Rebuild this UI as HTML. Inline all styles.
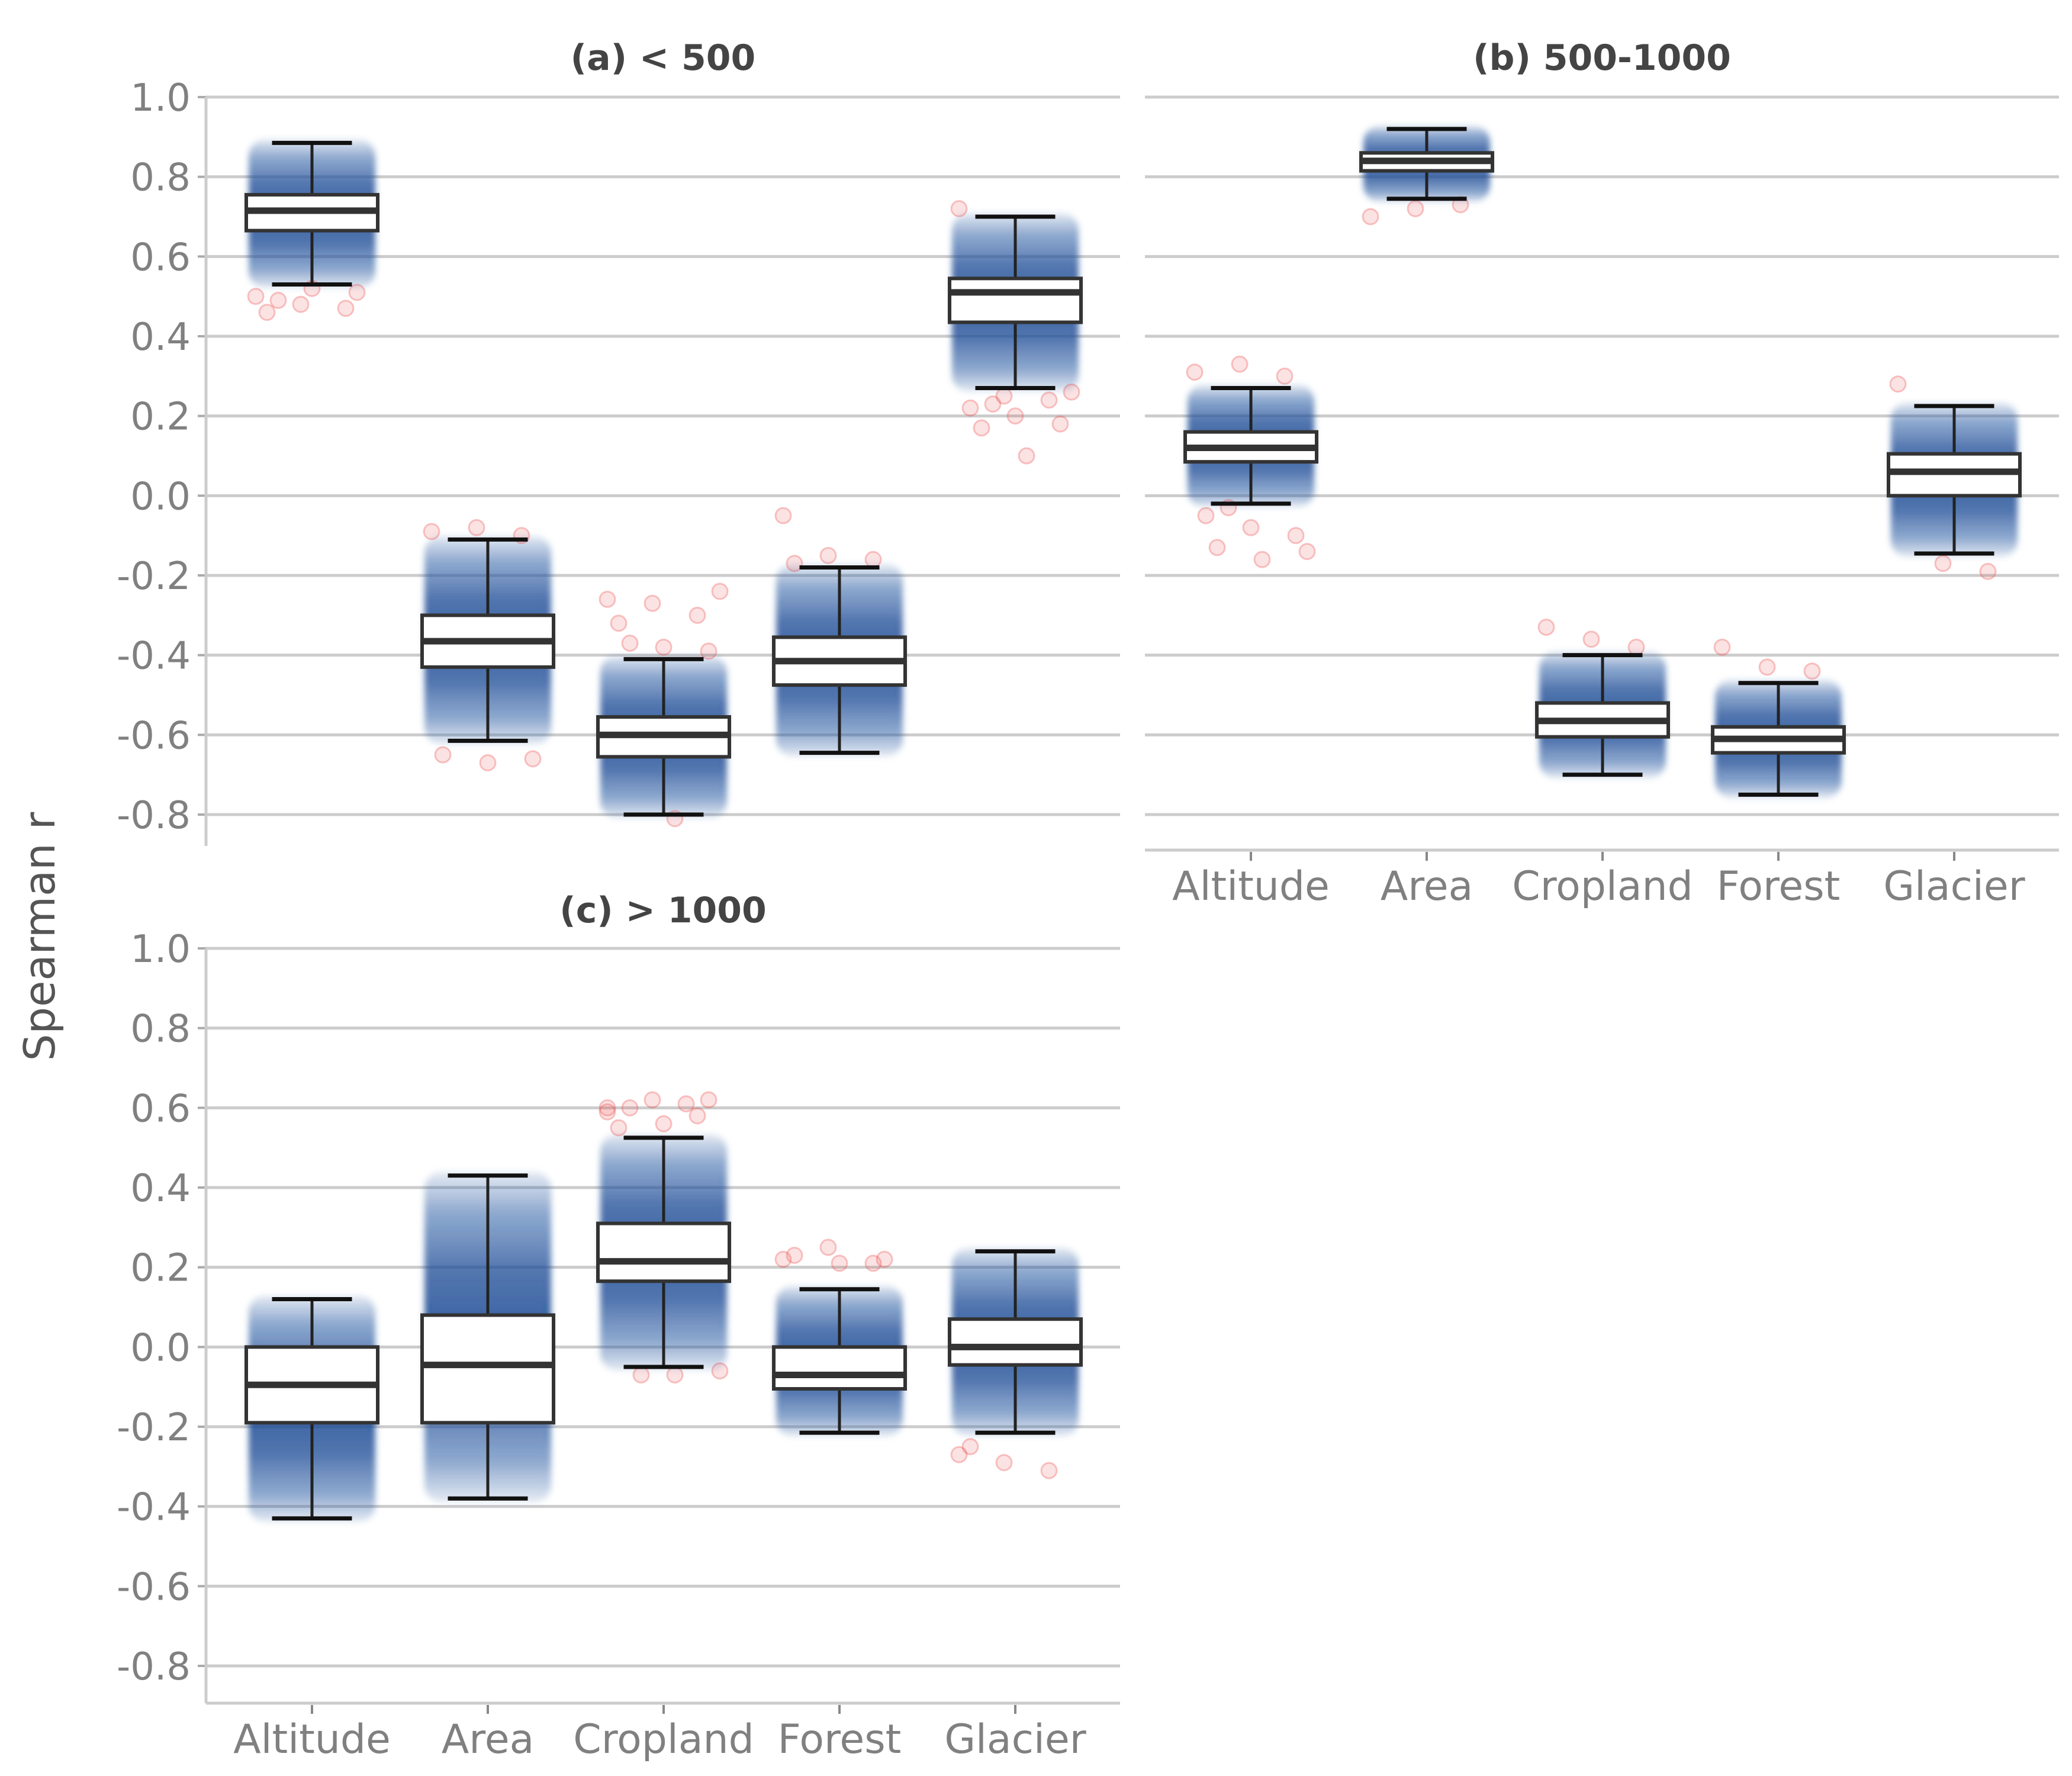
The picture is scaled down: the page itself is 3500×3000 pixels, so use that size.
<!DOCTYPE html>
<html><head><meta charset="utf-8"><style>
html,body{margin:0;padding:0;background:#fff}
svg{display:block;font-family:"DejaVu Sans","Liberation Sans",sans-serif}
</style></head><body>
<svg id="chart" width="3500" height="3000" viewBox="0 0 3500 3000" xmlns="http://www.w3.org/2000/svg">
<defs>
<linearGradient id="cloud" x1="0" y1="0" x2="0" y2="1">
<stop offset="0" stop-color="#2456a0" stop-opacity="0.12"/>
<stop offset="0.12" stop-color="#2456a0" stop-opacity="0.5"/>
<stop offset="0.3" stop-color="#1f4f98" stop-opacity="0.78"/>
<stop offset="0.5" stop-color="#1a4a94" stop-opacity="0.88"/>
<stop offset="0.7" stop-color="#1f4f98" stop-opacity="0.78"/>
<stop offset="0.88" stop-color="#2456a0" stop-opacity="0.5"/>
<stop offset="1" stop-color="#2456a0" stop-opacity="0.12"/>
</linearGradient>
<filter id="soft"><feGaussianBlur stdDeviation="5"/></filter>
</defs>
<text x="0" y="0" transform="translate(92,1582) rotate(-90)" text-anchor="middle" font-size="72" fill="#555">Spearman r</text>
</svg>
<script>
const categories = ["Altitude","Area","Cropland","Forest","Glacier"];
const yTicks = [1.0,0.8,0.6,0.4,0.2,0.0,-0.2,-0.4,-0.6,-0.8];
const panelTitles = ["(a) < 500","(b) 500-1000","(c) > 1000"];
// box stats per panel: [q1, median, q3, whiskerLow, whiskerHigh]
const statsA = [[0.665,0.715,0.755,0.53,0.885],[-0.43,-0.365,-0.30,-0.615,-0.11],[-0.655,-0.60,-0.555,-0.80,-0.41],[-0.475,-0.415,-0.355,-0.645,-0.18],[0.435,0.51,0.545,0.27,0.70]];
const statsB = [[0.085,0.12,0.16,-0.02,0.27],[0.815,0.84,0.86,0.745,0.92],[-0.605,-0.565,-0.52,-0.70,-0.40],[-0.645,-0.61,-0.58,-0.75,-0.47],[0.0,0.06,0.105,-0.145,0.225]];
const statsC = [[-0.19,-0.095,0.0,-0.43,0.12],[-0.19,-0.045,0.08,-0.38,0.43],[0.165,0.215,0.31,-0.05,0.525],[-0.105,-0.07,0.0,-0.215,0.145],[-0.045,0.0,0.07,-0.215,0.24]];
// outliers per category
const outA = [[0.50,0.48,0.47,0.46,0.52,0.51,0.49],[-0.09,-0.08,-0.10,-0.65,-0.67,-0.66],[-0.26,-0.27,-0.30,-0.32,-0.38,-0.39,-0.37,-0.81,-0.24],[-0.05,-0.15,-0.16,-0.17],[0.72,0.25,0.24,0.22,0.20,0.18,0.17,0.10,0.26,0.23]];
const outB = [[0.31,0.33,0.30,-0.05,-0.08,-0.10,-0.13,-0.16,-0.14,-0.03],[0.70,0.72,0.73],[-0.33,-0.36,-0.38],[-0.38,-0.43,-0.44],[0.28,-0.17,-0.19]];
const outC = [[],[],[0.60,0.62,0.58,0.55,0.56,0.62,0.60,-0.07,-0.06,-0.07,0.61,0.59],[0.22,0.25,0.21,0.23,0.21,0.22],[-0.27,-0.29,-0.31,-0.25]];

const NS="http://www.w3.org/2000/svg";
const svg=document.getElementById('chart');
function mk(tag,attrs,parent){const e=document.createElementNS(NS,tag);for(const k in attrs)e.setAttribute(k,attrs[k]);(parent||svg).appendChild(e);return e;}

const panels=[
 {x0:348,x1:1892,yTop:164,yBot:1376,axisBot:1429,stats:statsA,out:outA,title:panelTitles[0],titleY:118,yLabels:true,xLabels:false,vAxis:true,name:'panel-a'},
 {x0:1934,x1:3478,yTop:164,yBot:1376,axisBot:1436,stats:statsB,out:outB,title:panelTitles[1],titleY:118,yLabels:false,xLabels:true,vAxis:false,name:'panel-b'},
 {x0:348,x1:1892,yTop:1602,yBot:2814,axisBot:2877,stats:statsC,out:outC,title:panelTitles[2],titleY:1558,yLabels:true,xLabels:true,vAxis:true,name:'panel-c'}
];

panels.forEach(p=>{
 const g=mk('g',{});
 
 
 const yScale=v=>p.yBot+(v-(-0.8))/(1.8)*(p.yTop-p.yBot);
 const xScale=i=>p.x0+179+i*297;
 yTicks.forEach(t=>{
  const l=mk('line',{x1:p.x0,x2:p.x1,y1:yScale(t),y2:yScale(t),stroke:'#cccccc','stroke-width':5},g);
  
  
  if(p.yLabels){
   mk('line',{x1:p.x0-14,x2:p.x0,y1:yScale(t),y2:yScale(t),stroke:'#aaa','stroke-width':4},g);
   const tx=mk('text',{x:p.x0-26,y:yScale(t)+23,'text-anchor':'end','font-size':64,fill:'#808080'},g);
   tx.textContent=t.toFixed(1);
   
   
  }
 });
 if(p.vAxis){
  const a=mk('line',{x1:p.x0,x2:p.x0,y1:p.yTop,y2:p.axisBot,stroke:'#cccccc','stroke-width':5},g);
  
  
 }
 if(p.xLabels){
  const a=mk('line',{x1:p.x0,x2:p.x1,y1:p.axisBot,y2:p.axisBot,stroke:'#cccccc','stroke-width':5},g);
  
  
  categories.forEach((c,i)=>{
   mk('line',{x1:xScale(i),x2:xScale(i),y1:p.axisBot+3,y2:p.axisBot+18,stroke:'#888','stroke-width':4},g);
   const tx=mk('text',{x:xScale(i),y:p.axisBot+84,'text-anchor':'middle','font-size':68,fill:'#808080'},g);
   tx.textContent=c;
   
   
  });
 }
 const tt=mk('text',{x:(p.x0+p.x1)/2,y:p.titleY,'text-anchor':'middle','font-size':60,'font-weight':'bold',fill:'#444'},g);
 tt.textContent=p.title;
 
 

 categories.forEach((c,i)=>{
  const s=p.stats[i];const cx=xScale(i);
  const lo=Math.min(s[3],s[0]),hi=Math.max(s[4],s[2]);
  const cw=214;
  const cloud=mk('rect',{x:cx-cw/2,y:yScale(hi)-6,width:cw,height:yScale(lo)-yScale(hi)+12,rx:28,fill:'url(#cloud)',filter:'url(#soft)'},g);
  
  
  p.out[i].forEach((v,j)=>{
   const off=(((j*37)%11)-5)/5*95;
   const pt=mk('circle',{cx:cx+off,cy:yScale(v),r:13,fill:'rgba(235,70,70,0.15)',stroke:'rgba(235,70,70,0.3)','stroke-width':3},g);
   
   
  });
  const bw=222,cap=135;
  const wh=mk('line',{x1:cx,x2:cx,y1:yScale(s[4]),y2:yScale(s[3]),stroke:'#222','stroke-width':5},g);
  
  
  [s[3],s[4]].forEach(v=>{
   const cp=mk('line',{x1:cx-cap/2,x2:cx+cap/2,y1:yScale(v),y2:yScale(v),stroke:'#111','stroke-width':7},g);
   
   
  });
  const bx=mk('rect',{x:cx-bw/2,y:yScale(s[2]),width:bw,height:yScale(s[0])-yScale(s[2]),fill:'#fff',stroke:'#333','stroke-width':6},g);
  
  
  const md=mk('line',{x1:cx-bw/2,x2:cx+bw/2,y1:yScale(s[1]),y2:yScale(s[1]),stroke:'#333','stroke-width':11},g);
  
  
 });
});
</script>
</body></html>
